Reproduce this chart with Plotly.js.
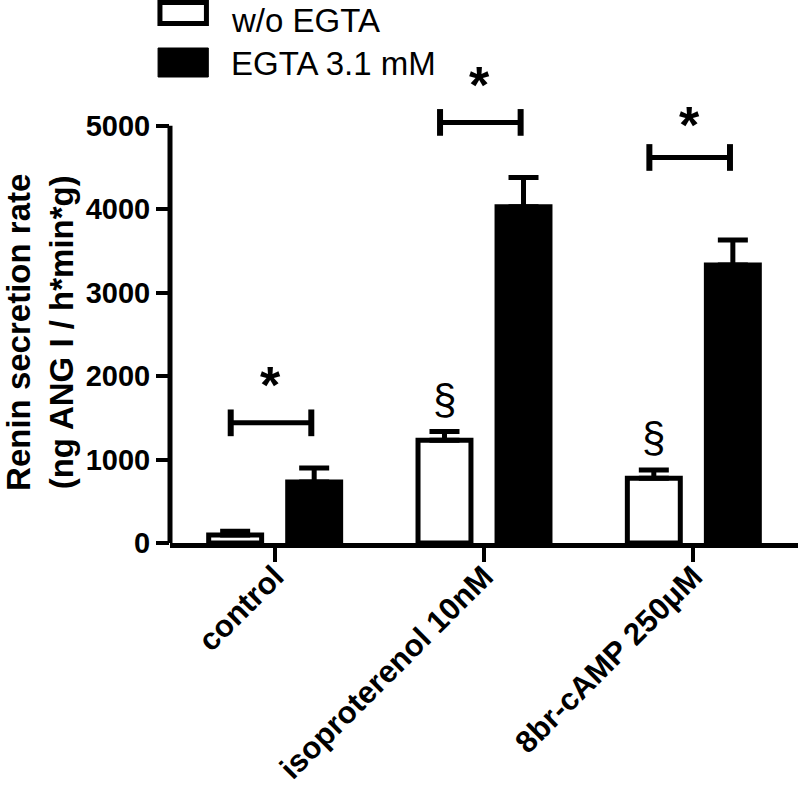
<!DOCTYPE html>
<html>
<head>
<meta charset="utf-8">
<script src="https://cdn.plot.ly/plotly-3.0.1.min.js"></script>
<style>
  body { margin: 0; background: #fff; }
  #chart { width: 800px; height: 791px; }
</style>
</head>
<body>
<div id="chart"></div>
<script>
// values (ng ANG I / h*min*g), mean + SEM
var categories = ['control', 'isoproterenol 10nM', '8br-cAMP 250\u03bcM'];
var seriesNames = ['w/o EGTA', 'EGTA 3.1 mM'];
var woEgta = [95, 1230, 775];
var woEgtaErr = [45, 105, 100];
var egta = [730, 4030, 3330];
var egtaErr = [170, 350, 300];

// significance marks
var bracketY = [1440, 5040, 4620];
var starY = [2050, 5640, 5160];
var sectionY = [null, 1715, 1270];

var fontFam = '"Liberation Sans", Arial, sans-serif';
var zeros = categories.map(function () { return 0; });

var before = {
  x: categories,
  y: woEgta,
  name: seriesNames[0],
  type: 'bar',
  marker: { color: '#ffffff', line: { color: '#000000', width: 5 } },
  error_y: { type: 'data', symmetric: false, array: woEgtaErr, arrayminus: zeros,
             color: '#000000', thickness: 5, width: 15 },
  hoverinfo: 'y+name'
};
var after = {
  x: categories,
  y: egta,
  name: seriesNames[1],
  type: 'bar',
  marker: { color: '#000000', line: { color: '#000000', width: 5 } },
  error_y: { type: 'data', symmetric: false, array: egtaErr, arrayminus: zeros,
             color: '#000000', thickness: 5, width: 15 },
  hoverinfo: 'y+name'
};

var shapes = [];
var annotations = [];

// y axis line only up to 5000
shapes.push({ type: 'line', xref: 'paper', yref: 'y', x0: 0, x1: 0, y0: 0, y1: 5000,
              line: { color: '#000', width: 5 } });

for (var i = 0; i < categories.length; i++) {
  var xa = i - 0.21, xb = i + 0.175;
  var yb = bracketY[i];
  shapes.push({ type: 'line', x0: xa, x1: xb, y0: yb, y1: yb, line: { color: '#000', width: 5 } });
  shapes.push({ type: 'line', x0: xa, x1: xa, y0: yb - 160, y1: yb + 160, line: { color: '#000', width: 6 } });
  shapes.push({ type: 'line', x0: xb, x1: xb, y0: yb - 160, y1: yb + 160, line: { color: '#000', width: 6 } });
  annotations.push({ x: i - 0.02, y: starY[i], text: '<b>*</b>', showarrow: false, yshift: -13,
                     font: { family: fontFam, size: 52, color: '#000' } });
  if (sectionY[i] !== null) {
    annotations.push({ x: i - 0.19, y: sectionY[i], text: '\u00a7', showarrow: false,
                       font: { family: fontFam, size: 42, color: '#000' } });
  }
}

// y title, placed by hand
annotations.push({ xref: 'paper', yref: 'paper', x: -0.207, y: 0.434, textangle: -90,
                   xanchor: 'center', yanchor: 'middle', showarrow: false,
                   text: '<b>Renin secretion rate<br>(ng ANG I / h*min*g)</b>',
                   font: { family: fontFam, size: 33, color: '#000' } });

// hand drawn legend (big boxes like the original)
shapes.push({ type: 'rect', xref: 'paper', yref: 'paper', x0: -0.016, x1: 0.058, y0: 1.0733, y1: 1.1167,
              fillcolor: '#fff', line: { color: '#000', width: 5 } });
shapes.push({ type: 'rect', xref: 'paper', yref: 'paper', x0: -0.019, x1: 0.061, y0: 0.9628, y1: 1.0227,
              fillcolor: '#000', line: { color: '#000', width: 1 } });
annotations.push({ xref: 'paper', yref: 'paper', x: 0.094, y: 1.1219, xanchor: 'left', yanchor: 'top',
                   text: seriesNames[0], showarrow: false, font: { family: fontFam, size: 33, color: '#000' } });
annotations.push({ xref: 'paper', yref: 'paper', x: 0.094, y: 0.9917, xanchor: 'left', yanchor: 'middle',
                   text: seriesNames[1], showarrow: false, font: { family: fontFam, size: 33, color: '#000' } });

var layout = {
  width: 800,
  height: 791,
  margin: { l: 170, r: 2, t: 59, b: 248 },
  paper_bgcolor: '#fff',
  plot_bgcolor: '#fff',
  showlegend: false,
  barmode: 'group',
  bargap: 0.245,
  bargroupgap: 0.33,
  font: { family: fontFam, color: '#000' },
  xaxis: {
    type: 'category',
    range: [-0.5, 2.5],
    showline: true, linecolor: '#000', linewidth: 5,
    ticks: 'outside', ticklen: 14, tickwidth: 4, tickcolor: '#000',
    tickangle: -45,
    ticklabelstandoff: -16,
    tickfont: { family: fontFam, size: 31, color: '#000', weight: 'bold' },
    showgrid: false, zeroline: false, fixedrange: true, automargin: false
  },
  yaxis: {
    range: [0, 5800],
    tickvals: [0, 1000, 2000, 3000, 4000, 5000],
    showline: false,
    ticks: 'outside', ticklen: 13, tickwidth: 4, tickcolor: '#000',
    tickfont: { family: fontFam, size: 29, color: '#000', weight: 'bold' },
    showgrid: false, zeroline: false, fixedrange: true, automargin: false
  },
  shapes: shapes,
  annotations: annotations
};

Plotly.newPlot('chart', [before, after], layout, { displayModeBar: false, staticPlot: true });
</script>
</body>
</html>
